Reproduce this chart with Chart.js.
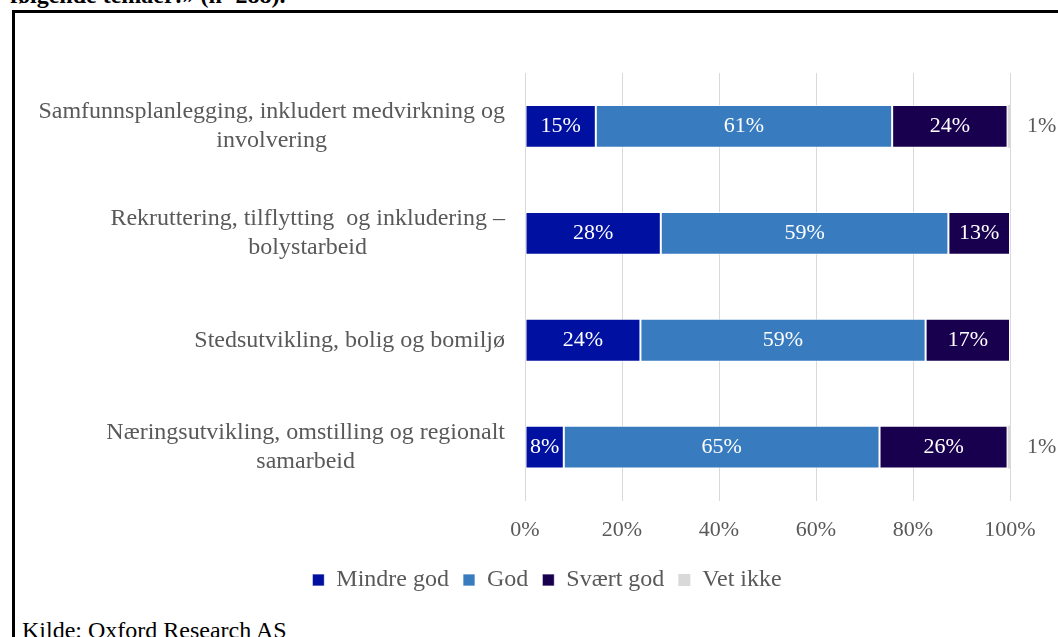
<!DOCTYPE html>
<html>
<head>
<meta charset="utf-8">
<script src="https://cdn.jsdelivr.net/npm/chart.js@4/dist/chart.umd.min.js"></script>
<style>
  html, body { margin: 0; padding: 0; background: #fff; }
  body { width: 1058px; height: 637px; position: relative; overflow: hidden; }
  .frame { position: absolute; left: 12px; top: 10px; right: -10px; bottom: -10px;
           border-top: 3px solid #000; border-left: 3px solid #000; }
  .head { position: absolute; left: 10px; top: -18px; font: bold 24px "Liberation Serif", serif; color: #000; }
  .source { position: absolute; left: 22px; top: 617px; font: 24px "Liberation Serif", serif; color: #000; }
  #wrap { position: absolute; left: 0; top: 0; width: 1058px; height: 637px; }
</style>
</head>
<body>
<div class="head">følgende temaer:» (n=288).</div>
<div class="frame"></div>
<div class="source">Kilde: Oxford Research AS</div>
<div id="wrap"><canvas id="chart"></canvas></div>
<script>
// Data (percent of respondents)
const categories = [
  ['Samfunnsplanlegging, inkludert medvirkning og', 'involvering'],
  ['Rekruttering, tilflytting  og inkludering –', 'bolystarbeid'],
  ['Stedsutvikling, bolig og bomiljø'],
  ['Næringsutvikling, omstilling og regionalt', 'samarbeid']
];
const seriesNames = ['Mindre god', 'God', 'Svært god', 'Vet ikke'];
const mindreGod = [14.6, 28.0, 23.8, 8.0];
const god       = [61.1, 59.3, 58.8, 65.1];
const svaertGod = [23.8, 12.7, 17.4, 26.4];
const vetIkke   = [0.5, 0, 0, 0.5];
const xTicks = [0, 20, 40, 60, 80, 100];

const FONT = '"Liberation Serif", "Times New Roman", serif';
const GREY = '#595959';

// category labels: block right-aligned, lines centred (like Excel)
const categoryLabels = {
  id: 'categoryLabels',
  afterDraw(chart) {
    const { ctx, chartArea } = chart;
    const y = chart.scales.y;
    const right = chartArea.left - 20;
    const lineH = 29;
    ctx.save();
    ctx.font = '24px ' + FONT;
    ctx.fillStyle = GREY;
    ctx.textAlign = 'center';
    ctx.textBaseline = 'middle';
    categories.forEach((lines, i) => {
      const cy = y.getPixelForTick(i);
      const w = Math.max(...lines.map(l => ctx.measureText(l).width));
      const cx = right - w / 2;
      lines.forEach((l, k) => ctx.fillText(l, cx, cy + (k - (lines.length - 1) / 2) * lineH));
    });
    ctx.restore();
  }
};

// value labels inside the segments, "Vet ikke" outside the bar end
const valueLabels = {
  id: 'valueLabels',
  afterDatasetsDraw(chart) {
    const ctx = chart.ctx;
    ctx.save();
    ctx.font = '22px ' + FONT;
    ctx.textBaseline = 'middle';
    chart.data.datasets.forEach((ds, i) => {
      const meta = chart.getDatasetMeta(i);
      meta.data.forEach((bar, j) => {
        const v = ds.data[j];
        if (!v) return;
        const txt = Math.round(v) + '%';
        if (i === 3) {
          ctx.fillStyle = GREY;
          ctx.textAlign = 'left';
          ctx.fillText(txt, bar.x + 17, bar.y);
        } else {
          ctx.fillStyle = '#ffffff';
          ctx.textAlign = 'center';
          ctx.fillText(txt, (bar.x + bar.base) / 2, bar.y);
        }
      });
    });
    ctx.restore();
  }
};

function barSet(label, data, color, bw) {
  return {
    label, data,
    backgroundColor: color,
    borderColor: 'rgba(255,255,255,0.7)',
    borderWidth: bw,
    borderSkipped: false,
    barPercentage: 0.4,
    categoryPercentage: 1.0
  };
}

new Chart(document.getElementById('chart'), {
  type: 'bar',
  data: {
    labels: categories,
    datasets: [
      barSet(seriesNames[0], mindreGod, '#0010A0', 1),
      barSet(seriesNames[1], god, '#387CBF', 1),
      barSet(seriesNames[2], svaertGod, '#19004F', 1),
      barSet(seriesNames[3], vetIkke, '#D9D9D9', 0)
    ]
  },
  options: {
    indexAxis: 'y',
    responsive: true,
    maintainAspectRatio: false,
    animation: false,
    layout: { padding: { left: 84, right: 48, top: 73, bottom: 35 } },
    scales: {
      x: {
        stacked: true,
        min: 0, max: 100,
        afterBuildTicks: (s) => { s.ticks = xTicks.map(v => ({ value: v })); },
        afterFit: (s) => { s.height = s.height - 5; },
        grid: { color: '#D9D9D9', lineWidth: 1, drawTicks: false },
        border: { display: false },
        ticks: {
          color: GREY, padding: 16,
          font: { family: FONT, size: 22 },
          callback: (v) => v + '%'
        }
      },
      y: {
        stacked: true,
        grid: { display: false },
        border: { display: false },
        ticks: { display: false },
        afterFit: (s) => { s.width = 441; }
      }
    },
    plugins: {
      legend: {
        display: true,
        position: 'bottom',
        labels: {
          color: GREY, boxWidth: 12, boxHeight: 12, padding: 14,
          font: { family: FONT, size: 24 }
        }
      },
      tooltip: { enabled: false }
    }
  },
  plugins: [categoryLabels, valueLabels]
});
</script>
</body>
</html>
